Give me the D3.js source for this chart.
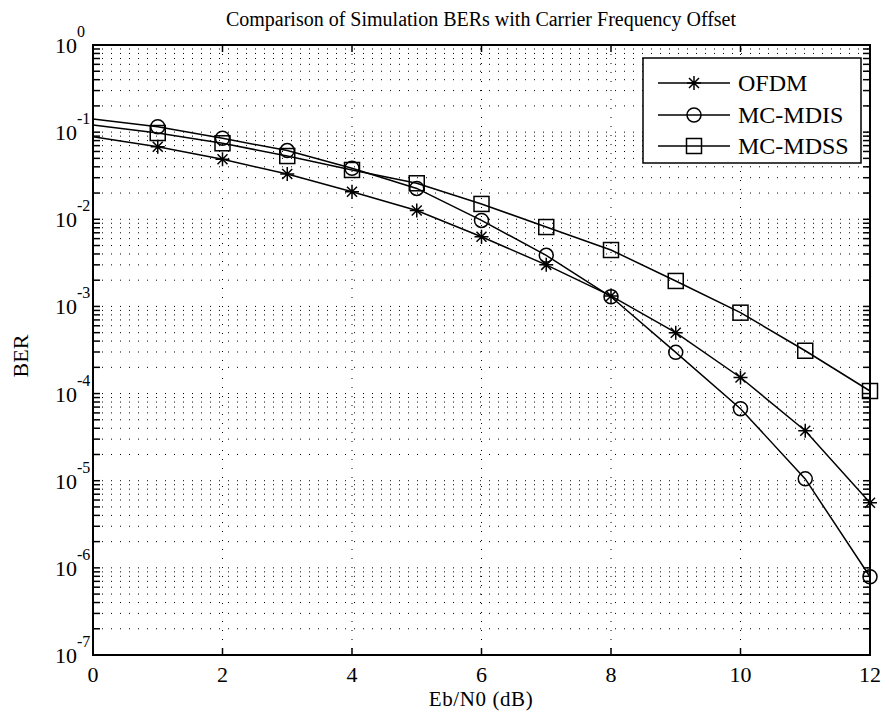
<!DOCTYPE html>
<html>
<head>
<meta charset="utf-8">
<script src="https://cdn.jsdelivr.net/npm/d3@7"></script>
<style>
  body { margin: 0; background: #fff; }
  text { font-family: "Liberation Serif", "Times New Roman", serif; fill: #000; }
</style>
</head>
<body>
<div id="chart"></div>
<script>
// data
const ebn0 = [0, 1, 2, 3, 4, 5, 6, 7, 8, 9, 10, 11, 12];
const berOFDM = [0.0887, 0.068, 0.0488, 0.0331, 0.0207, 0.0126, 0.0063, 0.003, 0.00132, 0.0005, 0.000153, 0.0000374, 0.0000056];
const berMDIS = [0.1416, 0.1153, 0.085, 0.0614, 0.0385, 0.0226, 0.0097, 0.00386, 0.00129, 0.000297, 0.000067, 0.0000105, 0.00000079];
const berMDSS = [0.1208, 0.0977, 0.0745, 0.0532, 0.0368, 0.0259, 0.015, 0.00815, 0.00444, 0.00196, 0.000848, 0.00031, 0.000107];
const seriesNames = ["OFDM", "MC-MDIS", "MC-MDSS"];
const markerKinds = ["star", "circle", "square"];
const xTicks = [0, 2, 4, 6, 8, 10, 12];
const yExps = [0, -1, -2, -3, -4, -5, -6, -7];

const W = 889, H = 723;
const plot = {left: 93, right: 870, top: 45, bottom: 655};

const svg = d3.select("#chart").append("svg")
  .attr("width", W).attr("height", H);
svg.append("rect").attr("width", W).attr("height", H).attr("fill", "#fff");

const x = d3.scaleLinear().domain([0, 12]).range([plot.left, plot.right]);
const y = d3.scaleLog().domain([1e-7, 1]).range([plot.bottom, plot.top]);

// minor + major log positions
let yGrid = [];
yExps.forEach(e => {
  if (e === -7) { yGrid.push(1e-7); return; }
  for (let m = 1; m <= 9; m++) yGrid.push(m * Math.pow(10, e - 1));
});
yGrid = yGrid.filter(v => v >= 1e-7 && v <= 1);

// grid
const grid = svg.append("g");
grid.selectAll("line.h")
  .data(yGrid.filter(v => v > 1e-7 && v < 1))
  .join("line")
  .attr("x1", plot.left).attr("x2", plot.right)
  .attr("y1", d => y(d)).attr("y2", d => y(d))
  .attr("stroke", "#000").attr("stroke-width", 1)
  .attr("stroke-dasharray", "1,8");
grid.selectAll("line.v")
  .data(xTicks.filter(d => d > 0 && d < 12))
  .join("line")
  .attr("x1", d => x(d)).attr("x2", d => x(d))
  .attr("y1", plot.top).attr("y2", plot.bottom)
  .attr("stroke", "#000").attr("stroke-width", 1)
  .attr("stroke-dasharray", "1,8");

// series
const series = [berOFDM, berMDIS, berMDSS].map((vals, i) => ({
  name: seriesNames[i],
  kind: markerKinds[i],
  points: ebn0.map((e, j) => ({x: e, y: vals[j]}))
}));

const line = d3.line().x(d => x(d.x)).y(d => y(d.y));

function drawMarker(g, kind, cx, cy) {
  if (kind === "circle") {
    g.append("circle").attr("cx", cx).attr("cy", cy).attr("r", 7)
      .attr("fill", "none").attr("stroke", "#000").attr("stroke-width", 1.5);
  } else if (kind === "square") {
    g.append("rect").attr("x", cx - 7.5).attr("y", cy - 7.5)
      .attr("width", 15).attr("height", 15)
      .attr("fill", "none").attr("stroke", "#000").attr("stroke-width", 1.5);
  } else {
    const r = 7, t = 5;
    g.append("path")
      .attr("d", `M${cx},${cy - r}L${cx},${cy + r}M${cx - r},${cy}L${cx + r},${cy}` +
        `M${cx - t},${cy - t}L${cx + t},${cy + t}M${cx - t},${cy + t}L${cx + t},${cy - t}`)
      .attr("fill", "none").attr("stroke", "#000").attr("stroke-width", 1.5);
  }
}

series.forEach(s => {
  svg.append("path").datum(s.points)
    .attr("d", line)
    .attr("fill", "none").attr("stroke", "#000").attr("stroke-width", 1.5);
  const mg = svg.append("g");
  s.points.filter(p => p.x > 0).forEach(p => drawMarker(mg, s.kind, x(p.x), y(p.y)));
});

// axes frame and ticks
const axes = svg.append("g");
const tickLen = 7;
xTicks.forEach(t => {
  axes.append("line").attr("x1", x(t)).attr("x2", x(t))
    .attr("y1", plot.bottom).attr("y2", plot.bottom - tickLen)
    .attr("stroke", "#000").attr("stroke-width", 1.5);
  axes.append("line").attr("x1", x(t)).attr("x2", x(t))
    .attr("y1", plot.top).attr("y2", plot.top + tickLen)
    .attr("stroke", "#000").attr("stroke-width", 1.5);
  axes.append("text").attr("x", x(t)).attr("y", 682)
    .attr("text-anchor", "middle").attr("font-size", 22).text(t);
});
yGrid.forEach(v => {
  axes.append("line").attr("x1", plot.left).attr("x2", plot.left + tickLen)
    .attr("y1", y(v)).attr("y2", y(v))
    .attr("stroke", "#000").attr("stroke-width", 1.5);
  axes.append("line").attr("x1", plot.right).attr("x2", plot.right - tickLen)
    .attr("y1", y(v)).attr("y2", y(v))
    .attr("stroke", "#000").attr("stroke-width", 1.5);
});
yExps.forEach(e => {
  const ty = y(Math.pow(10, e));
  axes.append("text").attr("x", 77).attr("y", ty + 8)
    .attr("text-anchor", "end").attr("font-size", 22).text("10");
  axes.append("text").attr("x", 77).attr("y", ty - 8)
    .attr("text-anchor", "start").attr("font-size", 16).text(e);
});
axes.append("rect")
  .attr("x", plot.left).attr("y", plot.top)
  .attr("width", plot.right - plot.left).attr("height", plot.bottom - plot.top)
  .attr("fill", "none").attr("stroke", "#000").attr("stroke-width", 2);

// labels
svg.append("text").attr("x", 481).attr("y", 26)
  .attr("text-anchor", "middle").attr("font-size", 20)
  .text("Comparison of Simulation BERs with Carrier Frequency Offset");
svg.append("text").attr("x", 481).attr("y", 706)
  .attr("text-anchor", "middle").attr("font-size", 21)
  .attr("letter-spacing", 0.6)
  .text("Eb/N0 (dB)");
svg.append("text")
  .attr("transform", "translate(28,356) rotate(-90)")
  .attr("text-anchor", "middle").attr("font-size", 22)
  .text("BER");

// legend
const legend = svg.append("g");
legend.append("rect").attr("x", 643).attr("y", 58).attr("width", 218).attr("height", 105)
  .attr("fill", "#fff").attr("stroke", "#000").attr("stroke-width", 1.5);
const legendY = [83, 115, 146];
series.forEach((s, i) => {
  const ly = legendY[i];
  legend.append("line").attr("x1", 658).attr("x2", 730).attr("y1", ly).attr("y2", ly)
    .attr("stroke", "#000").attr("stroke-width", 1.5);
  drawMarker(legend, s.kind, 694, ly);
  legend.append("text").attr("x", 738).attr("y", ly + 8)
    .attr("font-size", 24).text(s.name);
});
</script>
</body>
</html>
